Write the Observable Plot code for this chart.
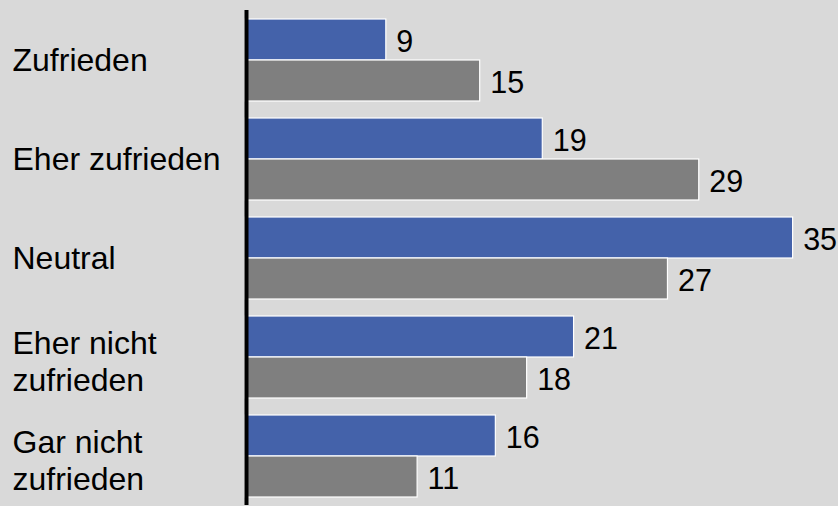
<!DOCTYPE html>
<html>
<head>
<meta charset="utf-8">
<script src="https://cdn.jsdelivr.net/npm/d3@7"></script>
<script src="https://cdn.jsdelivr.net/npm/@observablehq/plot@0.6"></script>
<style>
  html, body { margin: 0; padding: 0; background: #d9d9d9; }
  #chart svg { display: block; }
</style>
</head>
<body>
<div id="chart"></div>
<script>
const categories = ["Zufrieden", "Eher zufrieden", "Neutral", "Eher nicht zufrieden", "Gar nicht zufrieden"];
const categoryLabels = ["Zufrieden", "Eher zufrieden", "Neutral", "Eher nicht\nzufrieden", "Gar nicht\nzufrieden"];
const seriesNames = ["Serie 1", "Serie 2"];
const series1 = [9, 19, 35, 21, 16];
const series2 = [15, 29, 27, 18, 11];
const colors = ["#4462aa", "#7f7f7f"];

const rows = [];
categories.forEach((c, i) => {
  rows.push({category: c, series: seriesNames[0], value: series1[i]});
  rows.push({category: c, series: seriesNames[1], value: series2[i]});
});
const labelRows = categories.map((c, i) => ({category: c, label: categoryLabels[i]}));
const singleLabels = labelRows.filter(d => !d.label.includes("\n"));
const multiLabels = labelRows.filter(d => d.label.includes("\n"));

const labelOpts = {fy: "category", text: "label", frameAnchor: "left", dx: -233, textAnchor: "start", lineAnchor: "middle", lineHeight: 1.16, fontSize: 32, fill: "#000"};

const chart = Plot.plot({
  width: 838,
  height: 506,
  marginLeft: 245,
  marginRight: 0,
  marginTop: 8,
  marginBottom: 0,
  style: {background: "#d9d9d9", fontFamily: "Liberation Sans, Arial, sans-serif", color: "#000"},
  x: {domain: [0, 37.9], axis: null},
  y: {domain: seriesNames, paddingInner: 0, paddingOuter: 0.2, axis: null},
  fy: {domain: categories, padding: 0, axis: null},
  color: {domain: seriesNames, range: colors},
  marks: [
    Plot.barX(rows, {fy: "category", y: "series", x: "value", fill: "series", stroke: "white", strokeWidth: 1.2}),
    Plot.text(rows, {fy: "category", y: "series", x: "value", text: d => String(d.value), textAnchor: "start", dx: 10, dy: 2, fontSize: 30.5, fill: "#000"}),
    Plot.text(singleLabels, {...labelOpts, dy: -0.5}),
    Plot.text(multiLabels, {...labelOpts, dy: 3.5}),
    Plot.ruleX([0], {stroke: "#000", strokeWidth: 4, dx: 1})
  ]
});
document.getElementById("chart").appendChild(chart);
</script>
</body>
</html>
